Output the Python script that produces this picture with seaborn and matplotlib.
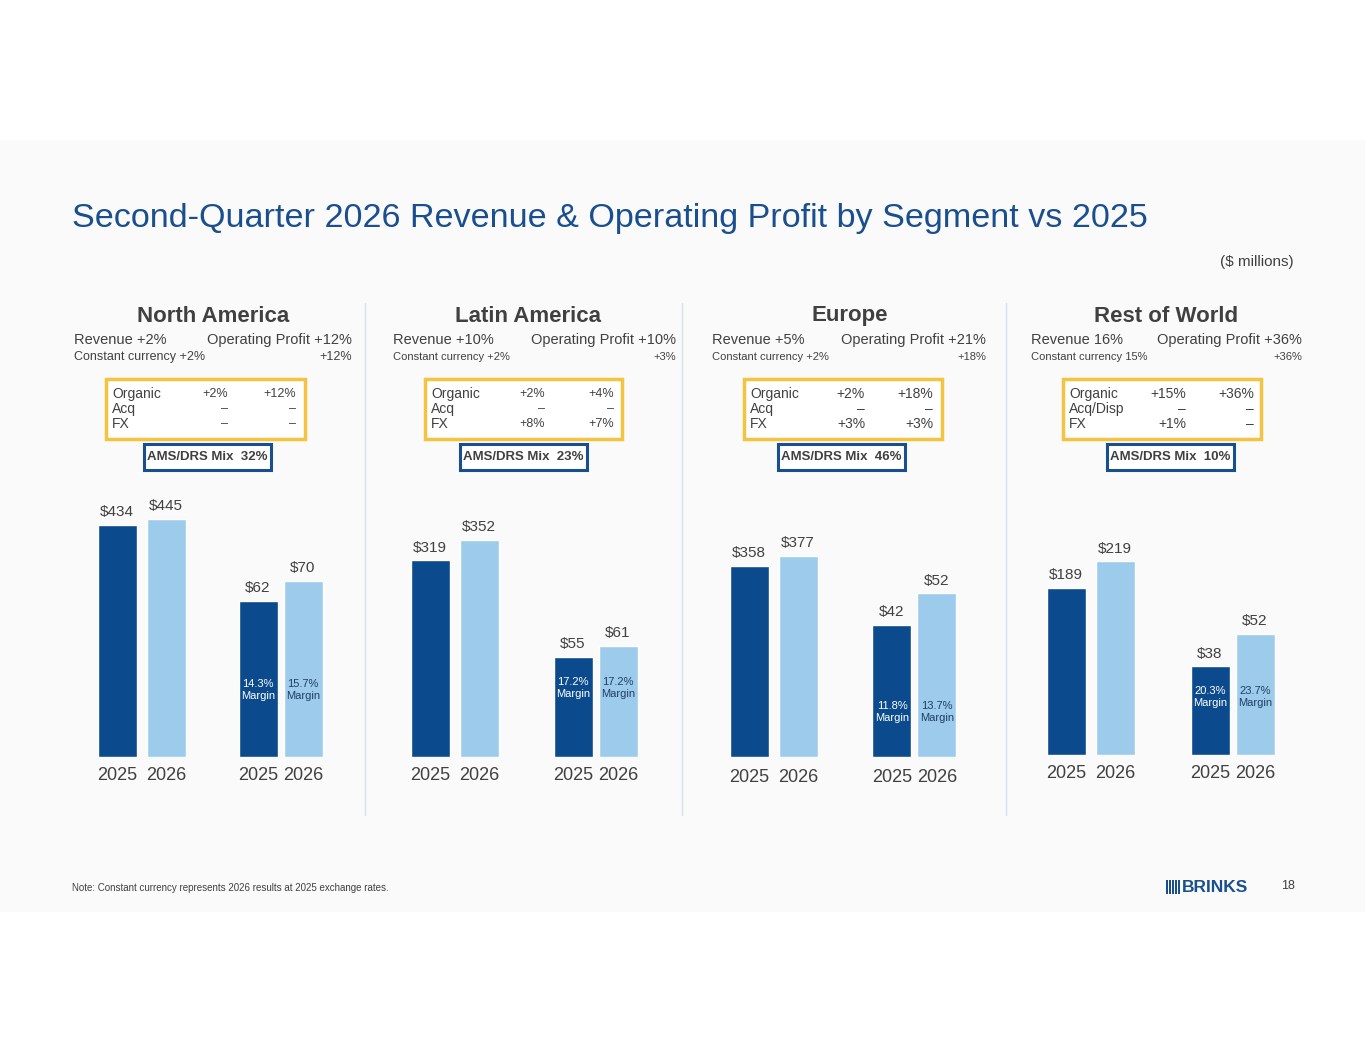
import matplotlib.pyplot as plt
import matplotlib.patches as patches
import seaborn as sns

sns.set_theme(style='white')
plt.rcParams['font.family'] = ['Liberation Sans', 'DejaVu Sans']

W, H = 1365, 1055
DARK = '#0b4a8c'
LIGHT = '#9ccbec'
NAVY = '#1a4f8f'
GRAY = '#404040'

# ---- data ----
segments = ['North America', 'Latin America', 'Europe', 'Rest of World']
years = ['2025', '2026']
revenue = [[434, 445], [319, 352], [358, 377], [189, 219]]
profit = [[62, 70], [55, 61], [42, 52], [38, 52]]
margins = [['14.3%', '15.7%'], ['17.2%', '17.2%'], ['11.8%', '13.7%'], ['20.3%', '23.7%']]
rev_growth = ['Revenue +2%', 'Revenue +10%', 'Revenue +5%', 'Revenue 16%']
op_growth = ['Operating Profit +12%', 'Operating Profit +10%', 'Operating Profit +21%', 'Operating Profit +36%']
cc_rev = ['Constant currency +2%', 'Constant currency +2%', 'Constant currency +2%', 'Constant currency 15%']
cc_op = ['+12%', '+3%', '+18%', '+36%']
bridge_rows = [['Organic', 'Acq', 'FX'], ['Organic', 'Acq', 'FX'],
               ['Organic', 'Acq', 'FX'], ['Organic', 'Acq/Disp', 'FX']]
bridge_rev = [['+2%', '–', '–'], ['+2%', '–', '+8%'], ['+2%', '–', '+3%'], ['+15%', '–', '+1%']]
bridge_op = [['+12%', '–', '–'], ['+4%', '–', '+7%'], ['+18%', '–', '+3%'], ['+36%', '–', '–']]
mix = ['32%', '23%', '46%', '10%']

# ---- layout (pixels) ----
centers = [213, 528, 850, 1166]
left = [74, 393, 712, 1031]
right = [352, 676, 986, 1302]
ybox_l = [106, 425, 744, 1063]
ybox_r = [305, 622, 942, 1261]
col1 = [228, 545, 865, 1186]
col2 = [296, 614, 933, 1254]
blue_l = [144, 460, 778, 1107]
rev_x = [117, 430, 749, 1066]
prof_x = [258, 573, 892, 1210]
rev_top = [518, 449, 519, 311]
prof_top = [110, 152, 88, 118]
baseline = [757, 757, 757, 755]
margin_y = [690, 688, 712, 697]
year_y = [775, 775, 777, 773]
small_cc = [9, 8, 8, 8]

fig = plt.figure(figsize=(W / 100, H / 100), dpi=100)
fig.patch.set_facecolor('white')

def fx(x):
    return x / W

def fy(y):
    return 1 - y / H

def rect(x0, y0, x1, y1, **kw):
    fig.add_artist(patches.Rectangle((fx(x0), fy(y1)), fx(x1) - fx(x0), (y1 - y0) / H,
                                     transform=fig.transFigure, **kw))

rect(0, 140, W, 912, facecolor='#f9faf9', edgecolor='none', zorder=0)

fig.text(fx(72), fy(218), 'Second-Quarter 2026 Revenue & Operating Profit by Segment vs 2025',
         color=NAVY, fontsize=24.6, va='center')
fig.text(fx(1294), fy(262), '($ millions)', color=GRAY, fontsize=11, ha='right', va='center')

for xd in [365, 682, 1006]:
    fig.add_artist(plt.Line2D([fx(xd), fx(xd)], [fy(303), fy(815)], color='#cfe3f3', lw=1,
                              transform=fig.transFigure))

def bars(xc, values, ytop, base, step, ax_top=480):
    ax = fig.add_axes([fx(xc - step / 2), fy(base), 2 * step / W, (base - ax_top) / H])
    sns.barplot(x=years, y=values, hue=years, palette=[DARK, LIGHT], legend=False,
                width=39 / step, ax=ax, saturation=1)
    ax.set_xlim(-0.5, 1.5)
    ax.set_ylim(0, ytop)
    ax.axis('off')
    for i, v in enumerate(values):
        ax.text(i, v + ytop * 0.02, f'${v}', ha='center', va='bottom', fontsize=11, color=GRAY)
    return ax

for k in range(4):
    fig.text(fx(centers[k]), fy(316), segments[k], fontsize=16, fontweight='bold',
             color=GRAY, ha='center', va='center')
    fig.text(fx(left[k]), fy(340), rev_growth[k], fontsize=10.5, color=GRAY, va='center')
    fig.text(fx(right[k]), fy(340), op_growth[k], fontsize=10.5, color=GRAY, va='center', ha='right')
    fig.text(fx(left[k]), fy(357), cc_rev[k], fontsize=small_cc[k], color=GRAY, va='center')
    fig.text(fx(right[k]), fy(357), cc_op[k], fontsize=small_cc[k], color=GRAY, va='center', ha='right')

    rect(ybox_l[k], 379, ybox_r[k], 439, facecolor='white', edgecolor='#f5c342', lw=2.5, zorder=2)
    for r in range(3):
        yy = fy(394 + r * 15)
        fig.text(fx(ybox_l[k] + 6), yy, bridge_rows[k][r], fontsize=10, color=GRAY, va='center')
        fig.text(fx(col1[k]), yy, bridge_rev[k][r], fontsize=9 if k < 2 else 10, color=GRAY,
                 va='center', ha='right')
        fig.text(fx(col2[k]), yy, bridge_op[k][r], fontsize=9 if k < 2 else 10, color=GRAY,
                 va='center', ha='right')

    rect(blue_l[k], 444, blue_l[k] + 127, 470, facecolor='white', edgecolor=NAVY, lw=2.2, zorder=2)
    fig.text(fx(blue_l[k] + 63.5), fy(457), f'AMS/DRS Mix  {mix[k]}', fontsize=9.5,
             fontweight='bold', color=GRAY, ha='center', va='center')

    bars(rev_x[k], revenue[k], rev_top[k], baseline[k], 49)
    bars(prof_x[k], profit[k], prof_top[k], baseline[k], 45)

    for i, xc in enumerate([rev_x[k], rev_x[k] + 49]):
        fig.text(fx(xc), fy(year_y[k]), years[i], fontsize=13, color=GRAY, ha='center', va='center')
    for i, xc in enumerate([prof_x[k], prof_x[k] + 45]):
        fig.text(fx(xc), fy(year_y[k]), years[i], fontsize=13, color=GRAY, ha='center', va='center')
        fig.text(fx(xc), fy(margin_y[k]), f'{margins[k][i]}\nMargin', fontsize=8,
                 color='white' if i == 0 else '#1f3f66', ha='center', va='center',
                 linespacing=1.2)

fig.text(fx(72), fy(888), 'Note: Constant currency represents 2026 results at 2025 exchange rates.',
         fontsize=7, color=GRAY, va='center')
fig.text(fx(1295), fy(886), '18', fontsize=9, color=GRAY, va='center', ha='right')
for j in range(5):
    rect(1166 + j * 3, 880, 1167.5 + j * 3, 894, facecolor=NAVY, edgecolor='none')
fig.text(fx(1182), fy(887), 'BRINKS', fontsize=12.5, fontweight='bold', color=NAVY, va='center')

fig.savefig('out.png', dpi=100, facecolor=fig.get_facecolor())
